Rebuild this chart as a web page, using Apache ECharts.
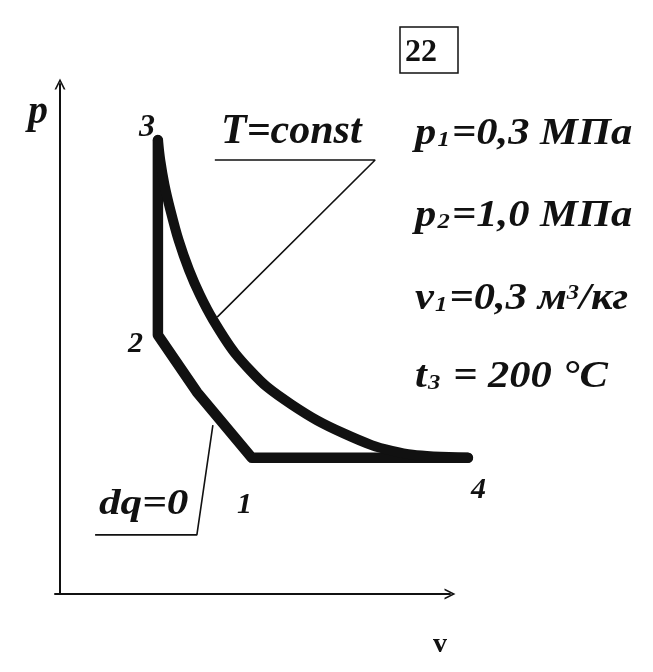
<!DOCTYPE html>
<html>
<head>
<meta charset="utf-8">
<script src="https://cdn.jsdelivr.net/npm/echarts@6/dist/echarts.min.js"></script>
<style>
html,body{margin:0;padding:0;background:#fff;}
#c{width:653px;height:672px;}
</style>
</head>
<body>
<div id="c"></div>
<script>
// Cycle 4 -> 1 -> (adiabat bend) -> 2 -> 3 (arbitrary v, p units)
const cycleV = [10.46, 4.92, 3.51, 2.51, 2.51];
const cycleP = [2.67, 2.67, 3.96, 5.08, 8.90];
// Isotherm 3 -> 4 (T = const)
const isoV = [2.51, 2.57, 2.68, 2.83, 3.04, 3.31, 3.59, 3.93, 4.48, 5.31, 6.58, 7.99, 9.04, 10.46];
const isoP = [8.90, 8.51, 8.02, 7.53, 6.94, 6.35, 5.86, 5.37, 4.73, 4.06, 3.41, 2.92, 2.73, 2.67];
// Leader line for "T=const"
const leadTV = [3.97, 8.08, 4.03];
const leadTP = [8.51, 8.51, 5.43];
// Leader line for "dq=0"
const leadQV = [0.90, 3.51, 3.92];
const leadQP = [1.16, 1.16, 3.31];
// Texts
const pointNames = ['1', '2', '3', '4'];
const taskNumber = '22';
const isoLabel = 'T=const';
const adiLabel = 'dq=0';
const axisNames = ['v', 'p'];

const zip = (a, b) => a.map((v, i) => [v, b[i]]);
const INK = '#111';
const serifBI = {fontFamily: 'Liberation Serif', fontWeight: 'bold', fontStyle: 'italic'};

function txt(text, x, y, size, extra, sx) {
  return {
    type: 'text', x: x, y: y, silent: true, scaleX: sx || 1,
    style: Object.assign({text: text, fill: INK, fontSize: size,
      verticalAlign: 'middle', align: 'left'}, serifBI, extra || {})
  };
}
function richTxt(text, x, y) {
  const base = Object.assign({fontSize: 38, fill: INK}, serifBI);
  return {
    type: 'text', x: x, y: y, silent: true, scaleX: 1.12,
    style: {
      text: text, verticalAlign: 'middle', align: 'left',
      rich: {
        i: base,
        s: Object.assign({}, base, {fontSize: 22, verticalAlign: 'bottom', padding: [0, 2, 2, 1]}),
        u: Object.assign({}, base, {fontSize: 22, verticalAlign: 'top', padding: [2, 0, 0, 0]})
      }
    }
  };
}

const chart = echarts.init(document.getElementById('c'), null, {renderer: 'canvas'});
const arrowPath = 'path://M0,10 L5,0 L10,10 L8.4,10 L5,3.2 L1.6,10 Z';
const hidden = {axisLine: {show: false}, axisTick: {show: false}, axisLabel: {show: false}, splitLine: {show: false}};
const shown = {
  axisLine: {show: true, onZero: false, symbol: ['none', arrowPath], symbolSize: [15, 11],
    lineStyle: {color: INK, width: 2}},
  axisTick: {show: false}, axisLabel: {show: false}, splitLine: {show: false}
};
chart.setOption({
  animation: false,
  backgroundColor: '#fff',
  grid: [
    {left: 60, right: 164, top: 84, bottom: 78},   // data grid (v 0..11, p 0..10)
    {left: 55, right: 203, top: 84, bottom: 78}    // axes with arrows
  ],
  xAxis: [
    Object.assign({type: 'value', min: 0, max: 11, gridIndex: 0}, hidden),
    Object.assign({type: 'value', min: 0, max: 10, gridIndex: 1}, shown)
  ],
  yAxis: [
    Object.assign({type: 'value', min: 0, max: 10, gridIndex: 0}, hidden),
    Object.assign({type: 'value', min: 0, max: 10, gridIndex: 1, offset: -5}, shown)
  ],
  series: [
    {type: 'line', data: zip(cycleV, cycleP), showSymbol: false, clip: false, silent: true,
      lineStyle: {color: INK, width: 10.5, cap: 'round', join: 'round'}},
    {type: 'line', data: zip(isoV, isoP), showSymbol: false, clip: false, silent: true, smooth: 0.25,
      lineStyle: {color: INK, width: 10, cap: 'round', join: 'round'}},
    {type: 'line', data: zip(leadTV, leadTP), showSymbol: false, clip: false, silent: true,
      lineStyle: {color: INK, width: 1.6}},
    {type: 'line', data: zip(leadQV, leadQP), showSymbol: false, clip: false, silent: true,
      lineStyle: {color: INK, width: 1.6}}
  ],
  graphic: [
    {type: 'rect', silent: true, shape: {x: 400, y: 27, width: 58, height: 46},
      style: {fill: 'none', stroke: INK, lineWidth: 1.5}},
    txt(taskNumber, 405, 53, 32, {fontStyle: 'normal'}),
    txt(axisNames[1], 28, 113, 40),
    txt(axisNames[0], 433, 645, 28, {fontStyle: 'normal'}),
    txt(isoLabel, 221, 132, 42),
    txt(adiLabel, 99, 505, 36, null, 1.2),
    txt(pointNames[0], 237, 505, 30),
    txt(pointNames[1], 128, 344, 30),
    txt(pointNames[2], 139, 128, 32),
    txt(pointNames[3], 471, 490, 30),
    richTxt('{i|p}{s|1}{i|=0,3 МПа}', 415, 134),
    richTxt('{i|p}{s|2}{i|=1,0 МПа}', 415, 216),
    richTxt('{i|v}{s|1}{i|=0,3 м}{u|3}{i|/кг}', 415, 299),
    richTxt('{i|t}{s|3}{i| = 200 °C}', 415, 377)
  ]
});
</script>
</body>
</html>
